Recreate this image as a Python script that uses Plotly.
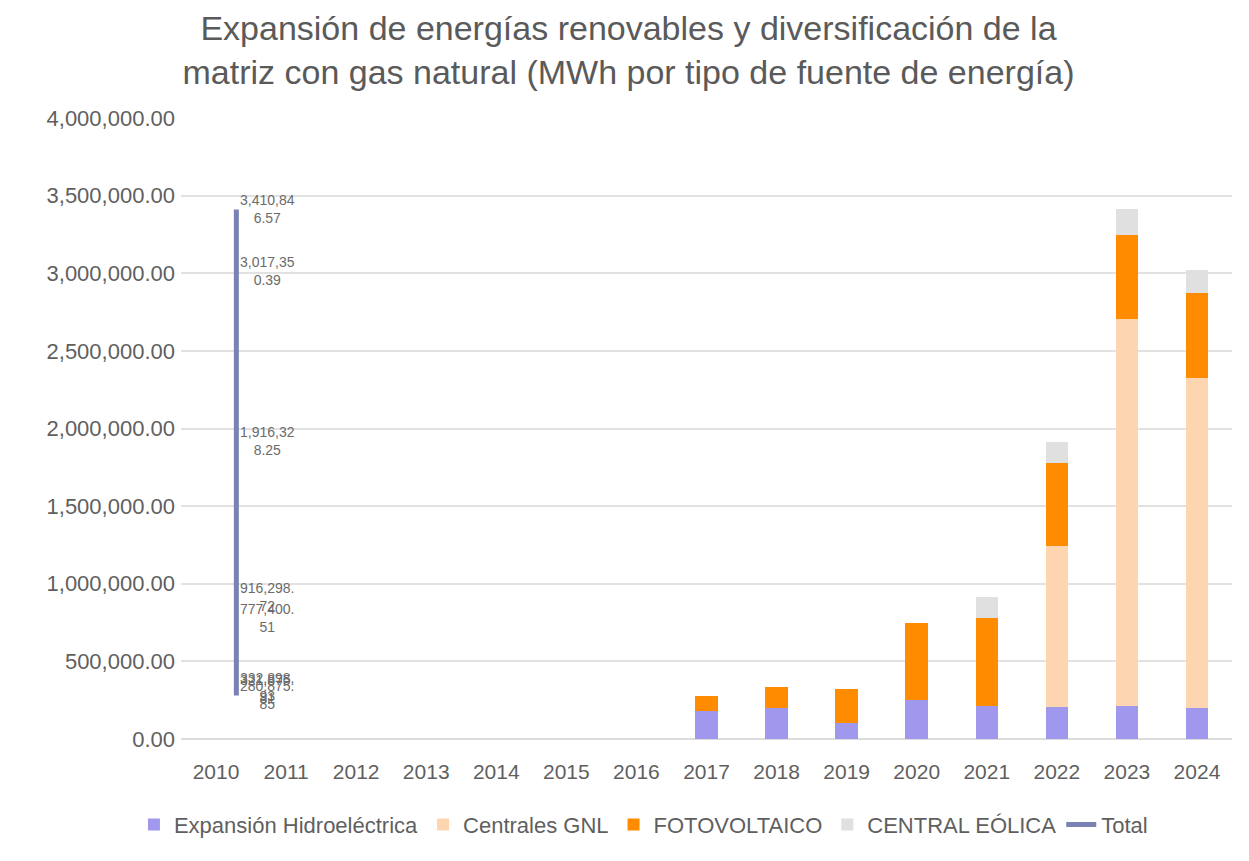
import plotly.graph_objects as go

# Data (MWh)
years = list(range(2010, 2025))
hidro = [0, 0, 0, 0, 0, 0, 0, 180000, 202000, 105000, 254000, 215000, 208000, 215000, 199000]
gnl = [0, 0, 0, 0, 0, 0, 0, 0, 0, 0, 0, 0, 1035000, 2493000, 2129000]
fotovoltaico = [0, 0, 0, 0, 0, 0, 0, 98000, 130000, 217000, 496000, 565000, 538000, 536000, 543000]
eolica = [0, 0, 0, 0, 0, 0, 0, 0, 0, 0, 0, 135000, 135000, 167000, 151000]

# Total series (as it appears in the source chart: all points drawn on the first category)
total_values = [280875.85, 332898.93, 321875.81, 777400.51, 916298.72,
                1916328.25, 3410846.57, 3017350.39]

colors = {
    'hidro': '#9f98ec',
    'gnl': '#fdd6b1',
    'pv': '#ff8c00',
    'eolica': '#e0e0e0',
    'total': '#7a82b3',
}

fig = go.Figure()

fig.add_trace(go.Bar(x=years, y=hidro, name='Expansión Hidroeléctrica',
                     marker=dict(color=colors['hidro'], line=dict(width=0))))
fig.add_trace(go.Bar(x=years, y=gnl, name='Centrales GNL',
                     marker=dict(color=colors['gnl'], line=dict(width=0))))
fig.add_trace(go.Bar(x=years, y=fotovoltaico, name='FOTOVOLTAICO',
                     marker=dict(color=colors['pv'], line=dict(width=0))))
fig.add_trace(go.Bar(x=years, y=eolica, name='CENTRAL EÓLICA',
                     marker=dict(color=colors['eolica'], line=dict(width=0))))

# the total line sits just right of the 2010 tick in the original
line_x = years[0] + 0.29
label_x = years[0] + 0.74
fig.add_trace(go.Scatter(x=[line_x] * len(total_values), y=total_values,
                         mode='lines', name='Total',
                         line=dict(color=colors['total'], width=5)))


def wrap_label(v):
    s = f"{v:,.2f}"
    return s[:8] + "<br>" + s[8:] if len(s) > 8 else s


for v in total_values:
    fig.add_annotation(x=label_x, y=v, text=wrap_label(v), showarrow=False,
                       xanchor='center', yanchor='middle', align='center',
                       font=dict(size=14, color='#6b6b6b'))

# page body adds 8px around the figure, so size/margins are trimmed by that
fig.update_layout(
    barmode='stack',
    bargap=0.68,
    width=1241,
    height=853,
    margin=dict(l=173, r=17, t=110, b=122),
    plot_bgcolor='white',
    paper_bgcolor='white',
    font=dict(family='Liberation Sans, Arial, sans-serif', color='#5f5f5f'),
    title=dict(
        text='Expansión de energías renovables y diversificación de la<br>'
             'matriz con gas natural (MWh por tipo de fuente de energía)',
        x=0.5, xanchor='center', y=0.963, yanchor='middle',
        font=dict(size=34, color='#5a5a5a'),
    ),
    legend=dict(
        orientation='h',
        x=0.44, xanchor='center',
        y=-0.138, yanchor='middle',
        font=dict(size=22, color='#5f5f5f'),
        itemwidth=30,
        traceorder='normal',
    ),
)

fig.update_xaxes(
    tickmode='array', tickvals=years, ticktext=[str(y) for y in years],
    range=[years[0] - 0.5, years[-1] + 0.5],
    showgrid=False, zeroline=False, showline=False,
    tickfont=dict(size=21, color='#5f5f5f'), ticks='',
    ticklabelstandoff=18,
)
fig.update_yaxes(
    range=[0, 4000000], dtick=500000, tickformat=',.2f',
    showgrid=True, gridcolor='#e2e2e2', gridwidth=1.5,
    zeroline=True, zerolinecolor='#dcdcdc', zerolinewidth=1.5,
    tickfont=dict(size=22, color='#5f5f5f'), ticks='',
    ticklabelstandoff=5,
)

fig.write_html("out.html")
